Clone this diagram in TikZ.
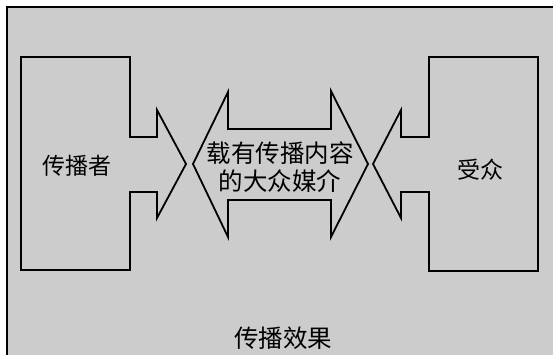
\documentclass[tikz,border=0pt]{standalone}
\usepackage{fontspec}
\newfontfamily\cjk{Noto Sans CJK SC}
\definecolor{bggray}{gray}{0.80}
\tikzset{
  outline/.style={draw=black, line width=1.8pt, line join=miter},
  lbl/.style={font=\cjk\fontsize{23}{28}\selectfont, inner sep=0pt, align=center},
  midlbl/.style={font=\cjk\fontsize{24.5}{28}\selectfont, inner sep=0pt, align=center}
}
\begin{document}
\begin{tikzpicture}[x=1pt,y=-1pt]
\useasboundingbox (0,0) rectangle (553,355);
% background panel
\fill[bggray] (7,7) rectangle (553,355);
\draw[line width=1.8pt] (7,355) -- (7,7) -- (553,7);
% sender box with arrow
\draw[outline] (21,57) -- (130,57) -- (130,137) -- (157,137) -- (157,110) -- (186,164)
  -- (157,218) -- (157,192) -- (130,192) -- (130,270) -- (21,270) -- cycle;
% media double arrow
\draw[outline] (193,164) -- (228,92) -- (228,129) -- (331,129) -- (331,91) -- (368,164)
  -- (331,237) -- (331,200) -- (228,200) -- (228,237) -- cycle;
% receiver box with arrow
\draw[outline] (373,164) -- (401,110) -- (401,137) -- (429,137) -- (429,57) -- (538,57)
  -- (538,271) -- (429,271) -- (429,192) -- (401,192) -- (401,218) -- cycle;
\node[lbl] (sender) at (77,166) {传播者};
\node[midlbl] (media) at (280,167) {载有传播内容\\的大众媒介};
\node[lbl] (receiver) at (480,170) {受众};
\node[midlbl] (effect) at (283,338) {传播效果};
\end{tikzpicture}
\end{document}
